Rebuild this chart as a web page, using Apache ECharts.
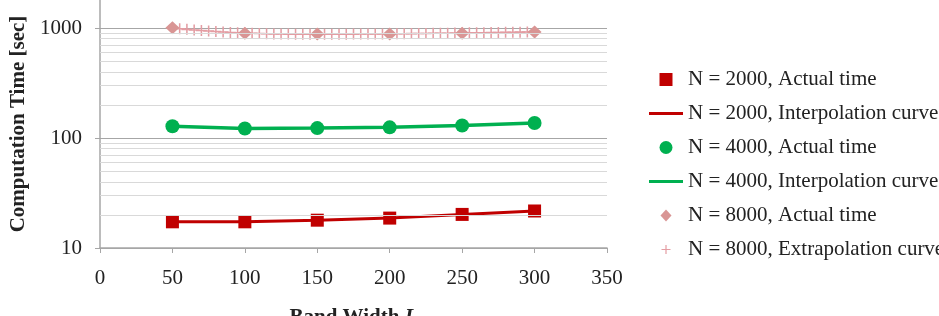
<!DOCTYPE html>
<html>
<head>
<meta charset="utf-8">
<script src="https://cdn.jsdelivr.net/npm/echarts@6/dist/echarts.min.js"></script>
<style>
  html, body { margin: 0; padding: 0; background: #fff; }
  #main { width: 939px; height: 316px; }
</style>
</head>
<body>
<div id="main"></div>
<script>
// band width L (x)
var bandWidth = [50, 100, 150, 200, 250, 300];
// computation time [sec]
var actual2000 = [17.3, 17.3, 17.9, 18.7, 20.2, 21.7];
var actual4000 = [128, 122, 123, 125, 130, 137];
var actual8000 = [1005, 895, 882, 882, 895, 920];
// extrapolation curve for N = 8000, read every 5 units
var extrapX = [50, 55, 60, 65, 70, 75, 80, 85, 90, 95, 100, 105, 110, 115, 120, 125, 130, 135, 140, 145,
  150, 155, 160, 165, 170, 175, 180, 185, 190, 195, 200, 205, 210, 215, 220, 225, 230, 235, 240, 245,
  250, 255, 260, 265, 270, 275, 280, 285, 290, 295, 300];
var extrap8000 = [1000, 985, 972, 960, 948, 938, 929, 920, 912, 905, 899, 894, 890, 887, 884, 882, 880, 879, 878, 878,
  878, 878, 878, 879, 879, 880, 881, 882, 883, 884, 885, 886, 888, 889, 891, 892, 894, 896, 897, 899,
  901, 903, 905, 907, 909, 911, 913, 915, 917, 919, 921];
// minor grid lines of the log axis
var minorTicks = [20, 30, 40, 50, 60, 70, 80, 90, 200, 300, 400, 500, 600, 700, 800, 900];

function pairs(xs, ys) {
  return xs.map(function (x, i) { return [x, ys[i]]; });
}

var font = 'Liberation Serif, Times New Roman, serif';
var crossPath = 'path://M4.3,0H5.7V10H4.3Z M0,4.3H10V5.7H0Z';
// legend icons, drawn in a 34x13 box (the corner moves keep the box size)
var box = 'path://M0,0M34,13';
var iconSquare = box + 'M10.5,0H23.5V13H10.5Z';
var iconLine = box + 'M0,5H34V8H0Z';
var iconCircle = box + 'M23.5,6.5A6.5,6.5,0,1,1,10.5,6.5A6.5,6.5,0,1,1,23.5,6.5Z';
var iconDiamond = box + 'M17,0.5L22.5,6.5L17,12.5L11.5,6.5Z';
var iconCross = box + 'M16.4,2H17.6V11H16.4Z M12.5,5.9H21.5V7.1H12.5Z';

var myChart = echarts.init(document.getElementById('main'));
myChart.setOption({
  animation: false,
  backgroundColor: '#fff',
  textStyle: { fontFamily: font },
  grid: { left: 100, right: 332, top: 0, bottom: 68, containLabel: false, outerBoundsMode: 'none' },
  legend: {
    orient: 'vertical',
    left: 644,
    top: 64,
    itemWidth: 34,
    itemHeight: 13,
    itemGap: 13,
    textStyle: { fontFamily: font, fontSize: 21, color: '#222' },
    data: [
      { name: 'N = 2000, Actual time', icon: iconSquare },
      { name: 'N = 2000, Interpolation curve', icon: iconLine },
      { name: 'N = 4000, Actual time', icon: iconCircle },
      { name: 'N = 4000, Interpolation curve', icon: iconLine },
      { name: 'N = 8000, Actual time', icon: iconDiamond },
      { name: 'N = 8000, Extrapolation curve', icon: iconCross }
    ]
  },
  xAxis: {
    type: 'value',
    min: 0,
    max: 350,
    interval: 50,
    name: '{a|Band Width }{b|L}',
    nameLocation: 'middle',
    nameGap: 59,
    nameTextStyle: {
      rich: {
        a: { fontFamily: font, fontSize: 21, fontWeight: 'bold', color: '#222' },
        b: { fontFamily: font, fontSize: 21, fontWeight: 'bold', fontStyle: 'italic', color: '#222' }
      }
    },
    axisLine: { show: true, lineStyle: { color: '#a6a6a6', width: 1.5 } },
    axisTick: { show: true, length: 5, lineStyle: { color: '#a6a6a6' } },
    axisLabel: { fontFamily: font, fontSize: 21, color: '#222', margin: 20 },
    splitLine: { show: false }
  },
  yAxis: {
    type: 'log',
    logBase: 10,
    min: 10,
    max: 1797,
    name: 'Computation Time [sec]',
    nameLocation: 'middle',
    nameGap: 68,
    nameTextStyle: { fontFamily: font, fontSize: 21, fontWeight: 'bold', color: '#222' },
    axisLine: { show: true, lineStyle: { color: '#a6a6a6', width: 1.5 } },
    axisTick: { show: true, length: 5, lineStyle: { color: '#a6a6a6' } },
    axisLabel: {
      fontFamily: font, fontSize: 21, color: '#222', margin: 18, showMaxLabel: false,
      formatter: function (v) { return String(v); }
    },
    splitLine: { show: true, showMaxLine: false, lineStyle: { color: '#a6a6a6', width: 1 } },
    minorTick: { show: false },
    minorSplitLine: { show: false }
  },
  series: [
    {
      name: 'minor grid',
      type: 'line',
      data: [],
      z: 1,
      silent: true,
      markLine: {
        silent: true,
        symbol: 'none',
        label: { show: false },
        lineStyle: { color: '#d9d9d9', width: 1, type: 'solid' },
        data: minorTicks.map(function (v) { return { yAxis: v }; })
      }
    },
    {
      name: 'N = 2000, Actual time',
      type: 'scatter',
      symbol: 'rect',
      symbolSize: 13,
      itemStyle: { color: '#c00000', opacity: 1 },
      data: pairs(bandWidth, actual2000)
    },
    {
      name: 'N = 2000, Interpolation curve',
      type: 'line',
      symbol: 'none',
      lineStyle: { color: '#c00000', width: 3 },
      itemStyle: { color: '#c00000' },
      data: pairs(bandWidth, actual2000)
    },
    {
      name: 'N = 4000, Actual time',
      type: 'scatter',
      symbol: 'circle',
      symbolSize: 14,
      itemStyle: { color: '#00b050', opacity: 1 },
      data: pairs(bandWidth, actual4000)
    },
    {
      name: 'N = 4000, Interpolation curve',
      type: 'line',
      symbol: 'none',
      lineStyle: { color: '#00b050', width: 3.5 },
      itemStyle: { color: '#00b050' },
      data: pairs(bandWidth, actual4000)
    },
    {
      name: 'N = 8000, Actual time',
      type: 'scatter',
      symbol: 'diamond',
      symbolSize: [14, 13],
      z: 4,
      itemStyle: { color: '#d99594', opacity: 1 },
      data: pairs(bandWidth, actual8000)
    },
    {
      name: 'N = 8000, Extrapolation curve',
      type: 'scatter',
      symbol: crossPath,
      symbolSize: 11,
      z: 3,
      itemStyle: { color: '#e49da3', opacity: 1 },
      data: pairs(extrapX, extrap8000)
    }
  ]
});
</script>
</body>
</html>
